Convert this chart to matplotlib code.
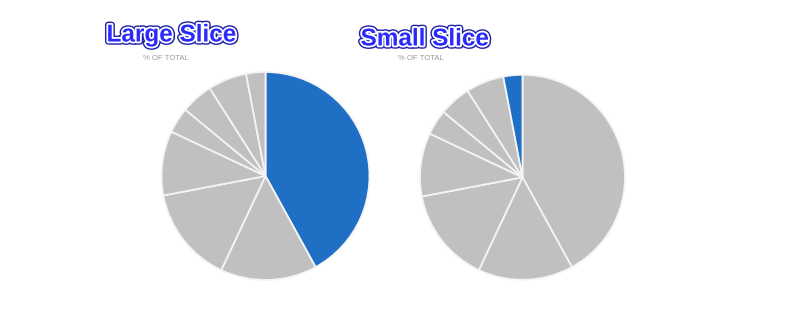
import matplotlib
matplotlib.use("Agg")
import matplotlib.pyplot as plt
import matplotlib.patheffects as pe

# Share of total for each segment (clockwise from 12 o'clock)
segments = ["A", "B", "C", "D", "E", "F", "G", "H"]
shares = [42, 15, 15, 10, 4, 5, 6, 3]

titles = ["Large Slice", "Small Slice"]
subtitle = "% OF TOTAL"
highlight_index = [0, 7]  # the slice drawn in blue on each pie

BLUE = "#1f6fc4"
GREY = "#c0c0c0"

W, H = 800, 320
fig = plt.figure(figsize=(W / 100, H / 100), dpi=100)
fig.patch.set_facecolor("white")

# pie centres and radii in pixels
pies = [((265.5, 176.0), 104.0), ((522.5, 177.3), 102.5)]
title_pos = [(171.5, 35), (425, 39)]
sub_pos = [(166, 59), (421, 59)]

title_fx = [
    pe.withSimplePatchShadow(offset=(2, -2), shadow_rgbFace="#000060", alpha=0.25),
    pe.withStroke(linewidth=4.6, foreground="#2020a8"),
    pe.withStroke(linewidth=2.6, foreground="white"),
]

for k, ((cx, cy), r) in enumerate(pies):
    ax = fig.add_axes([(cx - r) / W, 1 - (cy + r) / H, 2 * r / W, 2 * r / H])
    colors = [BLUE if i == highlight_index[k] else GREY for i in range(len(shares))]
    ax.pie(shares, labels=None, colors=colors, startangle=90, counterclock=False,
           wedgeprops=dict(edgecolor="#f4f4f4", linewidth=1.3), radius=1.0)
    ax.set_xlim(-1.0, 1.0)
    ax.set_ylim(-1.0, 1.0)
    ax.set_aspect("equal")
    ax.axis("off")

    tx, ty = title_pos[k]
    fig.text(tx / W, 1 - ty / H, titles[k], ha="center", va="center",
             fontsize=17.5, fontweight="bold", family="Liberation Sans",
             color="#2a2aff", path_effects=title_fx)
    sx, sy = sub_pos[k]
    fig.text(sx / W, 1 - sy / H, subtitle, ha="center", va="center",
             fontsize=5.6, family="Liberation Sans", color="#9a9a9a")

fig.savefig("out.png", dpi=100, facecolor="white")
